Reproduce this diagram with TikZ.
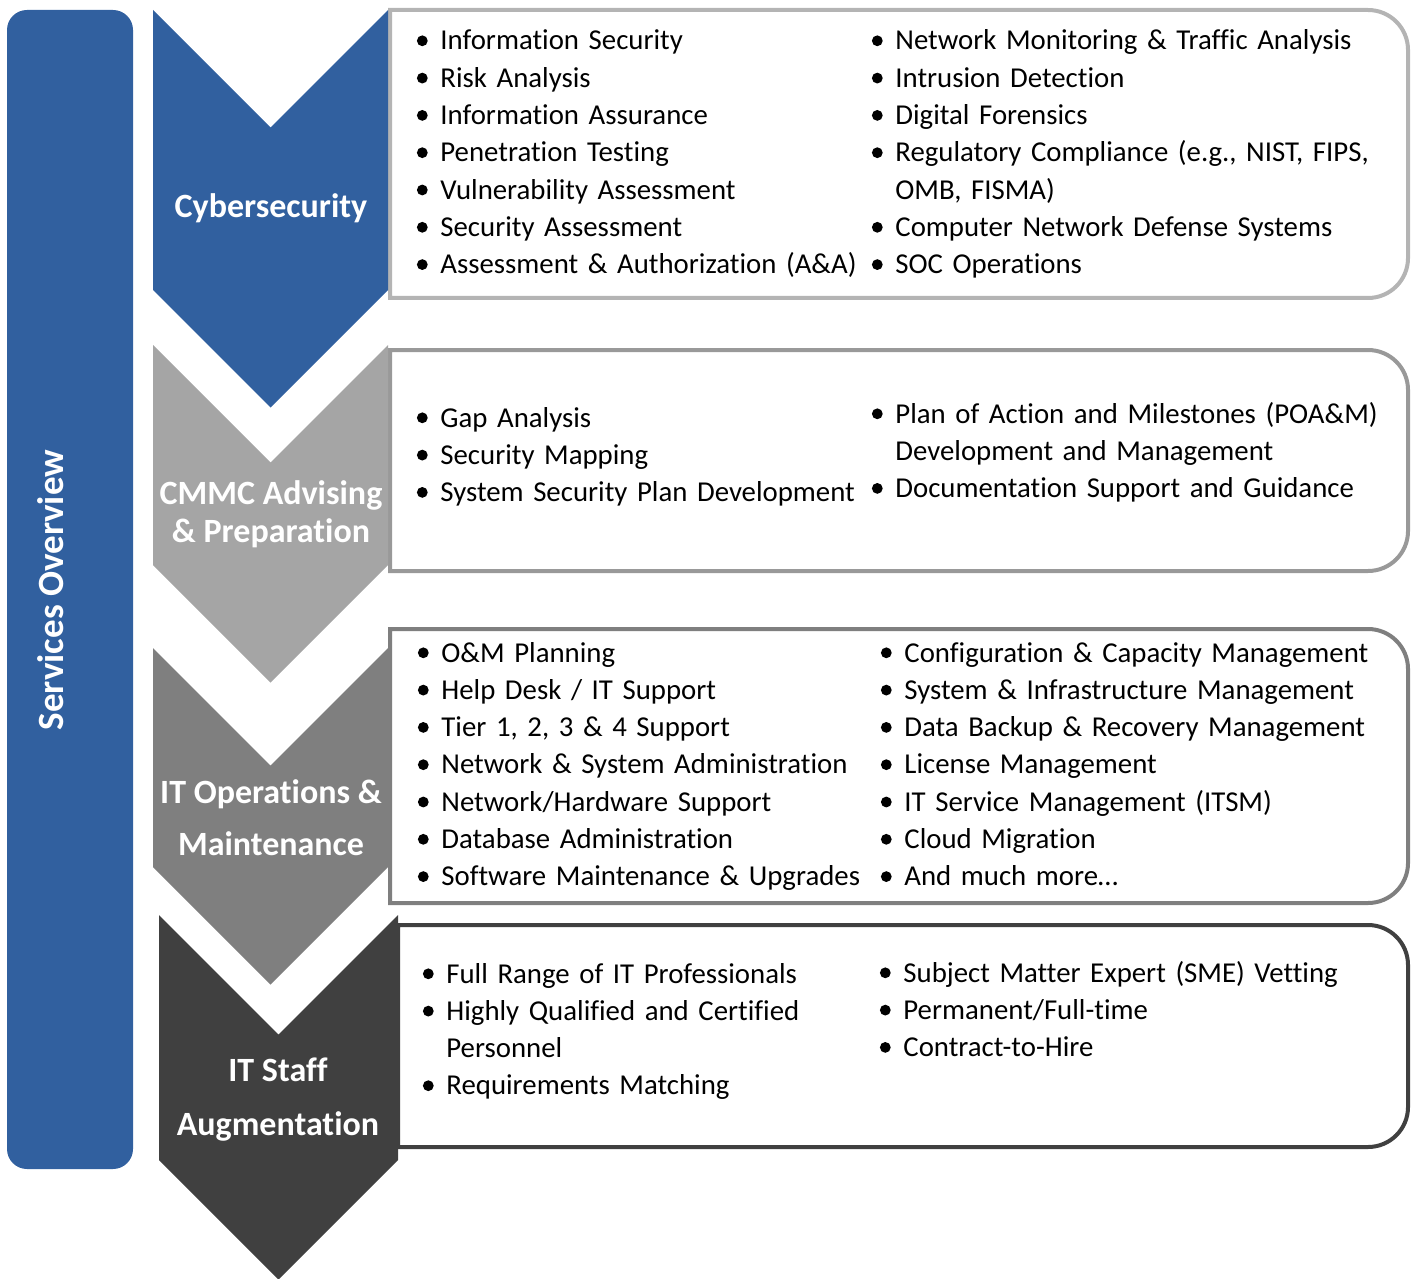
\documentclass[tikz,border=0pt]{standalone}
\usepackage{fontspec}
\setmainfont{Carlito}[Ligatures=NoCommon]
\usepackage{enumitem}

\definecolor{svcblue}{RGB}{49,96,159}
\definecolor{cmmcgray}{RGB}{165,165,165}
\definecolor{opsgray}{RGB}{127,127,127}
\definecolor{staffgray}{RGB}{64,64,64}
\definecolor{cyberline}{RGB}{180,180,180}
\definecolor{cmmcline}{RGB}{153,153,153}

\newcommand{\svcbullet}{\tikz[baseline=-4.6pt]\fill (0,0) circle (2.7pt);}
\setlist[itemize]{label=\svcbullet, nosep, align=left, labelindent=0pt,
  labelwidth=5.4pt, labelsep=6.35pt, leftmargin=11.75pt}

% #1 colour, #2 left, #3 right, #4 top, #5 bottom
\newcommand{\drawchevron}[5]{%
  \fill[#1] (#2,#4) -- ({(#2+#3)/2},{#4+(#3-#2)/2}) -- (#3,#4) -- (#3,#5)
    -- ({(#2+#3)/2},{#5+(#3-#2)/2}) -- (#2,#5) -- cycle;}
% #1 colour, #2 left, #3 top, #4 bottom
\newcommand{\drawsvcbox}[4]{%
  \draw[line width=2pt, draw=#1, fill=white] (#2,#4) -- (#2,#3) -- (1368,#3)
    arc[start angle=90, end angle=0, radius=20pt] -- (1408,#4-40)
    arc[start angle=0, end angle=-90, radius=20pt] -- cycle;}

\tikzset{
  chevlabel/.style={text=white, align=center, inner sep=0pt,
    font=\bfseries\fontsize{17}{#1}\selectfont},
  chevlabel/.default=19,
  svclist/.style={anchor=base west, inner sep=0pt, text width=#1,
    font=\fontsize{14.4}{18.65}\selectfont},
}

\begin{document}
\begin{tikzpicture}[x=0.5pt, y=-0.5pt]
\useasboundingbox (0,0) rectangle (1416,1278);

% left banner
\fill[svcblue, rounded corners=10pt] (7,10) rectangle (133,1169);
\node[rotate=90, text=white, font=\bfseries\fontsize{18.5}{20}\selectfont] (overview) at (51,590) {Services Overview};

% boxes
\drawsvcbox{cyberline}{390}{10}{298}
\drawsvcbox{cmmcline}{390}{350}{571}
\drawsvcbox{opsgray}{390}{629}{903}
\drawsvcbox{staffgray}{398}{925}{1147}

% chevrons
\drawchevron{svcblue}{153}{388}{10}{290}
\drawchevron{cmmcgray}{153}{388}{345}{565}
\drawchevron{opsgray}{153}{388}{648}{867}
\drawchevron{staffgray}{159}{398}{915}{1160}

\node[chevlabel, anchor=base] (cyber) at (271,218) {Cybersecurity};
\node[chevlabel] (cmmc) at (271,514) {CMMC Advising\\\& Preparation};
\node[chevlabel=26] (ops) at (271,818) {IT Operations \&\\Maintenance};
\node[chevlabel=27] (staff) at (278,1100) {IT Staff\\Augmentation};

% Cybersecurity
\node[svclist=235pt] (cyberleft) at (416.5,12.7) {\begin{itemize}
  \item Information Security
  \item Risk Analysis
  \item Information Assurance
  \item Penetration Testing
  \item Vulnerability Assessment
  \item Security Assessment
  \item Assessment \& Authorization (A\&A)
\end{itemize}};
\node[svclist=262pt] (cyberright) at (871.5,12.7) {\begin{itemize}
  \item Network Monitoring \& Traffic Analysis
  \item Intrusion Detection
  \item Digital Forensics
  \item Regulatory Compliance (e.g., NIST, FIPS,\newline OMB, FISMA)
  \item Computer Network Defense Systems
  \item SOC Operations
\end{itemize}};

% CMMC
\node[svclist=235pt] (cmmcleft) at (416.5,389.7) {\begin{itemize}
  \item Gap Analysis
  \item Security Mapping
  \item System Security Plan Development
\end{itemize}};
\node[svclist=262pt] (cmmcright) at (871.5,385.7) {\begin{itemize}
  \item Plan of Action and Milestones (POA\&M)\newline Development and Management
  \item Documentation Support and Guidance
\end{itemize}};

% IT operations
\node[svclist=235pt] (opsleft) at (417.5,624.7) {\begin{itemize}
  \item O\&M Planning
  \item Help Desk / IT Support
  \item Tier 1, 2, 3 \& 4 Support
  \item Network \& System Administration
  \item Network/Hardware Support
  \item Database Administration
  \item Software Maintenance \& Upgrades
\end{itemize}};
\node[svclist=258pt] (opsright) at (880.5,624.7) {\begin{itemize}
  \item Configuration \& Capacity Management
  \item System \& Infrastructure Management
  \item Data Backup \& Recovery Management
  \item License Management
  \item IT Service Management (ITSM)
  \item Cloud Migration
  \item And much more…
\end{itemize}};

% staff augmentation
\node[svclist=225pt] (staffleft) at (422.5,945.7) {\begin{itemize}
  \item Full Range of IT Professionals
  \item Highly Qualified and Certified\newline Personnel
  \item Requirements Matching
\end{itemize}};
\node[svclist=258pt] (staffright) at (879.5,944.7) {\begin{itemize}
  \item Subject Matter Expert (SME) Vetting
  \item Permanent/Full-time
  \item Contract-to-Hire
\end{itemize}};
\end{tikzpicture}
\end{document}
